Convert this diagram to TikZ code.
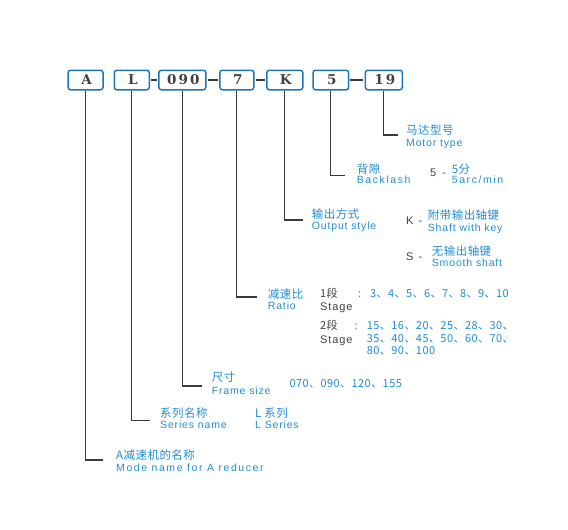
\documentclass[tikz,border=0pt]{standalone}
\usepackage{fontspec}
\setmainfont{Liberation Sans}
\newfontfamily\lat{Liberation Sans}[LetterSpace=8]
\newfontfamily\latw{Liberation Sans}[LetterSpace=15]
\newfontfamily\latm{Liberation Sans}[LetterSpace=15]
\newfontfamily\cjk{Noto Sans CJK SC}[LetterSpace=4]
\newfontfamily\boxf{DejaVu Serif}[LetterSpace=15]
\definecolor{codeblue}{HTML}{1B75BC}
\definecolor{tblue}{HTML}{1E8CD4}
\definecolor{tgray}{HTML}{404040}
\definecolor{lgray}{HTML}{3A3A3A}
\tikzset{
  code/.style={draw=codeblue, line width=1.5pt, rounded corners=2.5pt, minimum height=19.5pt, inner sep=0pt, text=tgray, font=\boxf\bfseries\fontsize{13.5}{13.5}\selectfont},
  lead/.style={draw=lgray, line width=1.2pt},
  dashc/.style={draw=lgray, line width=1.5pt, shorten <=1pt, shorten >=1.5pt},
  en/.style={anchor=base west, inner sep=0pt, text=tblue, font=\lat\fontsize{10.5}{10.5}\selectfont},
  enw/.style={anchor=base west, inner sep=0pt, text=tblue, font=\latw\fontsize{10.5}{10.5}\selectfont},
  enm/.style={anchor=base west, inner sep=0pt, text=tblue, font=\latm\fontsize{10.5}{10.5}\selectfont},
  zh/.style={anchor=base west, inner sep=0pt, text=tblue, font=\cjk\fontsize{11.5}{11.5}\selectfont},
  gr/.style={anchor=base west, inner sep=0pt, text=tgray, font=\lat\fontsize{11}{11}\selectfont},
  grzh/.style={anchor=base west, inner sep=0pt, text=tgray, font=\cjk\fontsize{11}{11}\selectfont},
  val/.style={anchor=base west, inner sep=0pt, text=tblue, font=\cjk\fontsize{11}{11}\selectfont},
}
\begin{document}
\begin{tikzpicture}[x=1pt,y=-1pt]
\useasboundingbox (0,0) rectangle (568,530);
% code boxes
\node[code, minimum width=35pt] (bA) at (85.5,80) {\hspace{2pt}A};
\node[code, minimum width=35pt] (bL) at (131.8,80) {\hspace{2pt}L};
\node[code, minimum width=47pt] (b090) at (182.3,80) {\hspace{2pt}090};
\node[code, minimum width=34pt] (b7) at (236.8,80) {\hspace{2pt}7};
\node[code, minimum width=36pt] (bK) at (284.8,80) {\hspace{2pt}K};
\node[code, minimum width=35.6pt] (b5) at (330.8,80) {\hspace{2pt}5};
\node[code, minimum width=37pt] (b19) at (383.8,80) {\hspace{2pt}19};
% dashes
\draw[dashc] (bL.east) -- (b090.west);
\draw[dashc] (b090.east) -- (b7.west);
\draw[dashc] (b7.east) -- (bK.west);
\draw[dashc] (b5.east) -- (b19.west);
% elbow ends
\coordinate (e19) at (398,135);
\coordinate (e5) at (345,175.7);
\coordinate (eK) at (303,220);
\coordinate (e7) at (257,297);
\coordinate (e090) at (202,386);
\coordinate (eL) at (150,420.7);
\coordinate (eA) at (103,460);
\draw[lead] (b19.south) |- (e19);
\draw[lead] (b5.south) |- (e5);
\draw[lead] (bK.south) |- (eK);
\draw[lead] (b7.south) |- (e7);
\draw[lead] (b090.south) |- (e090);
\draw[lead] (bL.south) |- (eL);
\draw[lead] (bA.south) |- (eA);
% motor type
\node[zh] (mzh) at (406,134.8) {马达型号};
\node[en] (men) at (406,146.4) {Motor type};
% backlash
\node[zh] (bzh) at (356.7,173.3) {背隙};
\node[enw] (ben) at (356.7,183.7) {Backlash};
\node[gr] (b5k) at (430,176.7) {5\hspace{6pt}-};
\node[zh] (b5zh) at (451.7,173.3) {5分};
\node[enw] (b5en) at (451.7,183.7) {5arc/min};
% output style
\node[zh] (ozh) at (311.7,218.3) {输出方式};
\node[en] (oen) at (311.7,229.7) {Output style};
\node[gr] (kk) at (406,224.7) {K\hspace{5pt}-};
\node[zh] (kzh) at (427.7,219.3) {附带输出轴键};
\node[en] (ken) at (427.7,231) {Shaft with key};
\node[gr] (ss) at (406,260) {S\hspace{5pt}-};
\node[zh] (szh) at (431.7,255.3) {无输出轴键};
\node[en] (sen) at (431.7,266.7) {Smooth shaft};
% ratio
\node[zh] (rzh) at (267.7,298.3) {减速比};
\node[en] (ren) at (267.7,309.7) {Ratio};
\node[grzh] (s1zh) at (320,297.3) {1段};
\node[gr] (s1en) at (320,310) {Stage};
\node[val] (c1) at (358,297) {:};
\node[val] (v1) at (370,297) {3、4、5、6、7、8、9、10};
\node[grzh] (s2zh) at (320,329.3) {2段};
\node[gr] (s2en) at (320,343) {Stage};
\node[val] (c2) at (354.5,329) {:};
\node[val] (v2a) at (366.7,329) {15、16、20、25、28、30、};
\node[val] (v2b) at (366.7,342) {35、40、45、50、60、70、};
\node[val] (v2c) at (366.7,354.4) {80、90、100};
% frame size
\node[zh] (fzh) at (211.7,381.6) {尺寸};
\node[en] (fen) at (211.7,394.4) {Frame size};
\node[val] (fv) at (289.3,387) {070、090、120、155};
% series
\node[zh] (lzh) at (160,417) {系列名称};
\node[en] (len) at (160,428.7) {Series name};
\node[zh] (lvzh) at (255,417) {L 系列};
\node[en] (lven) at (255,428.7) {L Series};
% mode name
\node[zh] (azh) at (116,459.3) {A减速机的名称};
\node[enm] (aen) at (116,471) {Mode name for A reducer};
\end{tikzpicture}
\end{document}
